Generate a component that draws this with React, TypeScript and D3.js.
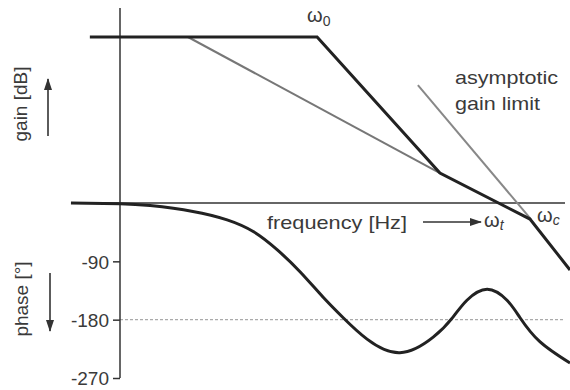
import React, { useRef, useEffect } from 'react';
import * as d3 from 'd3';

// gain asymptote (black): log-frequency units vs dB
const gainFreq = [-0.67, 4.38, 7.11, 9.11, 10];
const gainDb = [60, 60, 10.8, -5.8, -24.2];

// grey -20 dB/dec slope from the plateau
const slopeFreq = [1.51, 7.11];
const slopeDb = [60, 10.8];

// asymptotic gain limit (grey)
const limitFreq = [6.62, 9.13];
const limitDb = [42.6, -5.8];

// phase curve
const phaseFreq = [-1.09, 0, 0.67, 1.62, 2.38, 2.96, 3.49, 4.0, 4.51, 4.96, 5.49, 6.22, 6.96, 7.4, 7.71, 8.16, 8.6, 8.89, 9.33, 10];
const phaseDeg = [0, -1, -4, -13, -26, -44, -72, -106, -145, -177, -210, -231, -207, -176, -150, -133, -150, -177, -214, -247];

const phaseTicks = [-90, -180, -270];

const FONT = '"Liberation Sans", Arial, Helvetica, sans-serif';

const App = () => {
  const axisRef = useRef<SVGGElement>(null);

  const xScale = d3.scaleLinear().domain([0, 10]).range([120, 570]);
  const gainScale = d3.scaleLinear().domain([0, 60]).range([203, 37]);
  const phaseScale = d3.scaleLinear().domain([0, -270]).range([203, 378]);

  const gainLine = d3.line<number>()
    .x((_, i) => xScale(gainFreq[i]))
    .y(d => gainScale(d));
  const slopeLine = d3.line<number>()
    .x((_, i) => xScale(slopeFreq[i]))
    .y(d => gainScale(d));
  const limitLine = d3.line<number>()
    .x((_, i) => xScale(limitFreq[i]))
    .y(d => gainScale(d));
  const phaseLine = d3.line<number>()
    .x((_, i) => xScale(phaseFreq[i]))
    .y(d => phaseScale(d))
    .curve(d3.curveNatural);

  useEffect(() => {
    const g = d3.select(axisRef.current);
    g.selectAll('*').remove();
    // phase axis ticks
    g.call(d3.axisLeft(phaseScale).tickValues(phaseTicks).tickSize(7).tickSizeOuter(0).tickFormat(d => `${d}`));
    g.select('.domain').remove();
    g.selectAll('.tick line').attr('stroke', '#333').attr('stroke-width', 1.5);
    g.selectAll('.tick text')
      .attr('x', -11)
      .attr('dy', '0.36em')
      .style('font-family', FONT)
      .style('font-size', '19px')
      .attr('fill', '#3a3a3a');
  }, []);

  const x0 = xScale(0);

  return (
    <svg width={570} height={390} style={{ position: 'absolute', left: 0, top: 0, background: '#fff' }}>
      <defs>
        <marker id="ah" viewBox="0 0 12 8" refX="11" refY="4" markerWidth="12" markerHeight="8"
          markerUnits="userSpaceOnUse" orient="auto">
          <path d="M0,0 L12,4 L0,8 z" fill="#333" />
        </marker>
      </defs>

      {/* -180 reference line */}
      <line x1={x0} x2={565} y1={phaseScale(-180)} y2={phaseScale(-180)}
        stroke="#aaa" strokeWidth={1.2} strokeDasharray="3,2" />

      {/* 0 dB / 0 deg line */}
      <line x1={71} x2={565} y1={gainScale(0)} y2={gainScale(0)} stroke="#333" strokeWidth={1.5} />

      {/* vertical axis */}
      <line x1={x0} x2={x0} y1={8} y2={phaseScale(-270)} stroke="#333" strokeWidth={1.5} />
      <g ref={axisRef} transform={`translate(${x0},0)`} />

      {/* grey lines */}
      <path d={slopeLine(slopeDb) || ''} fill="none" stroke="#777" strokeWidth={2} />
      <path d={limitLine(limitDb) || ''} fill="none" stroke="#888" strokeWidth={2} />

      {/* black curves */}
      <path d={gainLine(gainDb) || ''} fill="none" stroke="#222" strokeWidth={3} strokeLinejoin="miter" />
      <path d={phaseLine(phaseDeg) || ''} fill="none" stroke="#222" strokeWidth={3} />

      {/* texts */}
      <g fontFamily={FONT} fill="#3a3a3a">
        <text transform="translate(27,104) rotate(-90)" textAnchor="middle" fontSize={19}>gain [dB]</text>
        <text transform="translate(28,299) rotate(-90)" textAnchor="middle" fontSize={19}>phase [°]</text>

        <text x={267} y={229} fontSize={19} textLength={140} lengthAdjust="spacingAndGlyphs">frequency [Hz]</text>
        <text x={455} y={84} fontSize={19} textLength={103} lengthAdjust="spacingAndGlyphs">asymptotic</text>
        <text x={455} y={110} fontSize={19} textLength={85} lengthAdjust="spacingAndGlyphs">gain limit</text>

        <text x={307} y={22} fontSize={20}>ω<tspan fontSize={14} dy={4}>0</tspan></text>
        <text x={484} y={227} fontSize={20}>ω<tspan fontSize={14} dy={3} fontStyle="italic">t</tspan></text>
        <text x={537} y={222} fontSize={20}>ω<tspan fontSize={14} dy={3} fontStyle="italic">c</tspan></text>
      </g>

      {/* arrows */}
      <line x1={48} x2={48} y1={136} y2={79} stroke="#333" strokeWidth={1.6} markerEnd="url(#ah)" />
      <line x1={50} x2={50} y1={273} y2={331} stroke="#333" strokeWidth={1.6} markerEnd="url(#ah)" />
      <line x1={423} x2={481} y1={222} y2={222} stroke="#333" strokeWidth={1.6} markerEnd="url(#ah)" />
    </svg>
  );
};

export default App;
